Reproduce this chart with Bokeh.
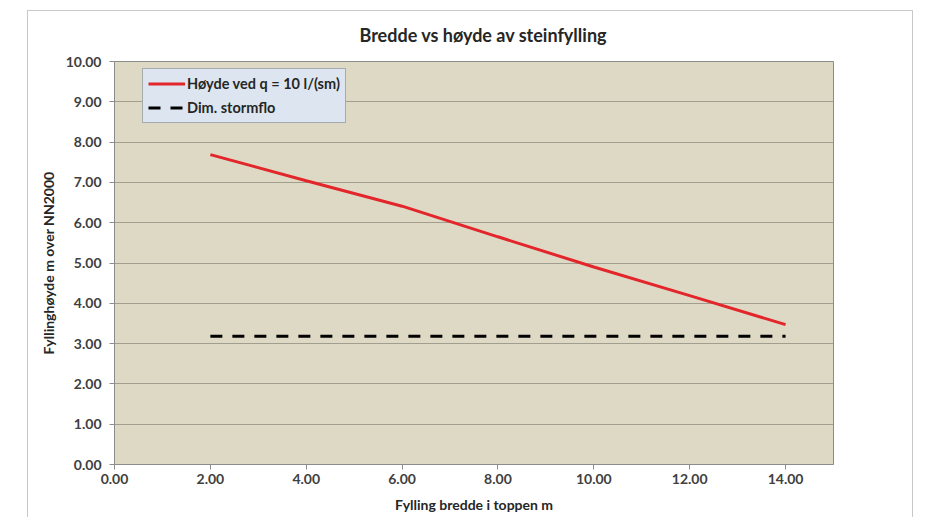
from bokeh.plotting import figure
from bokeh.models import FixedTicker, NumeralTickFormatter, Range1d, Legend, LegendItem, Spacer, Div
from bokeh.layouts import row, column
from bokeh.embed import file_html
from bokeh.resources import INLINE

# ---- data ----
bredde = [2, 4, 6, 8, 10, 12, 14]
hoyde_q10 = [7.69, 7.04, 6.41, 5.65, 4.90, 4.19, 3.47]
stormflo_x = [2, 14]
stormflo_y = [3.18, 3.18]
x_ticks = [0, 2, 4, 6, 8, 10, 12, 14]
y_ticks = [0, 1, 2, 3, 4, 5, 6, 7, 8, 9, 10]
title_text = "Bredde vs høyde av steinfylling"
x_title = "Fylling bredde i toppen m"
y_title = "Fyllinghøyde m over NN2000"
series_names = ["Høyde ved q = 10 l/(sm)", "Dim. stormflo"]

FONT = "Lato"
TXT = "#404040"

title_div = Div(
    text=('<div style="width:884px;box-sizing:border-box;padding-left:26px;padding-top:13px;'
          'text-align:center;font-family:Lato;font-size:18px;font-weight:bold;'
          'color:#262626;line-height:22px;white-space:nowrap;">' + title_text + '</div>'),
    width=884, height=40, margin=(0, 0, 0, 0),
    styles={"background-color": "white"})

p = figure(width=884, height=466, output_backend="svg", toolbar_location=None,
           x_range=Range1d(0, 15), y_range=Range1d(0, 10),
           min_border_left=86, min_border_right=79, min_border_top=10, min_border_bottom=53,
           background_fill_color="#ddd9c4", border_fill_color="white")

p.outline_line_color = "#8c8c8c"
p.outline_line_width = 1

p.xgrid.visible = False
p.ygrid.grid_line_color = "#a29e8f"
p.ygrid.grid_line_width = 1.2

for ax in (p.xaxis[0], p.yaxis[0]):
    ax.axis_line_color = "#8c8c8c"
    ax.major_tick_line_color = "#8c8c8c"
    ax.major_tick_in = 0
    ax.major_tick_out = 5
    ax.minor_tick_line_color = None
    ax.formatter = NumeralTickFormatter(format="0.00")
    ax.major_label_text_font = FONT
    ax.major_label_text_font_size = "14px"
    ax.major_label_text_font_style = "bold"
    ax.major_label_text_color = TXT
    ax.axis_label_text_font = FONT
    ax.axis_label_text_font_size = "14px"
    ax.axis_label_text_font_style = "bold"
    ax.axis_label_text_color = "#262626"

p.xaxis[0].ticker = FixedTicker(ticks=x_ticks)
p.yaxis[0].ticker = FixedTicker(ticks=y_ticks)
p.xaxis[0].axis_label = x_title
p.yaxis[0].axis_label = y_title
p.xaxis[0].major_label_standoff = 4
p.yaxis[0].major_label_standoff = 8
p.xaxis[0].axis_label_standoff = 9
p.yaxis[0].axis_label_standoff = 6

r1 = p.line(bredde, hoyde_q10, line_color="#e3262b", line_width=3)
r2 = p.line(stormflo_x, stormflo_y, line_color="black", line_width=3,
            line_dash="12 10", line_cap="butt")

legend = Legend(items=[LegendItem(label=series_names[0], renderers=[r1]),
                       LegendItem(label=series_names[1], renderers=[r2])],
                location=(28, 341))
legend.background_fill_color = "#dde6f0"
legend.background_fill_alpha = 1
legend.border_line_color = "#6e6e6e"
legend.border_line_width = 1
legend.label_text_font = FONT
legend.label_text_font_size = "14.5px"
legend.label_text_font_style = "bold"
legend.label_text_color = "#262626"
legend.glyph_width = 37
legend.glyph_height = 19
legend.label_height = 19
legend.label_standoff = 2
legend.spacing = 5
legend.padding = 5
legend.margin = 0
p.add_layout(legend)

chart = column(title_div, p, spacing=0,
               styles={"border-top": "1px solid #c8c8c8", "border-left": "1px solid #c8c8c8",
                       "border-right": "1px solid #c8c8c8"})
layout = column(Spacer(width=10, height=10), row(Spacer(width=27, height=10), chart))
open("out.html", "w").write(file_html(layout, INLINE))
